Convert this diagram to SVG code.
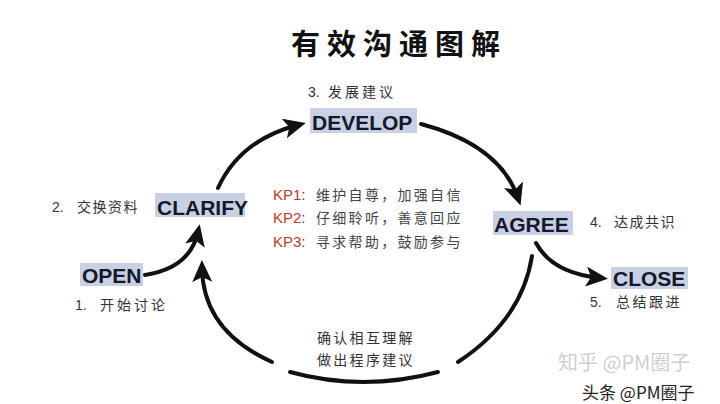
<svg xmlns="http://www.w3.org/2000/svg" width="720" height="404" viewBox="0 0 720 404">
<style>
  .title{font-family:"Noto Sans CJK SC","Liberation Sans",sans-serif;font-weight:700;font-size:29px;fill:#111;letter-spacing:7px}
  .box{fill:#c9d0e4}
  .key{font-family:"Liberation Sans","Noto Sans CJK SC",sans-serif;font-weight:700;font-size:21px;fill:#15182a}
  .lbl{font-family:"Liberation Sans","Noto Sans CJK SC",sans-serif;font-size:14px;fill:#333}
  .cn{font-family:"Noto Sans CJK SC","Liberation Sans",sans-serif;font-size:14px;fill:#333;letter-spacing:3px}
  .kp{font-family:"Liberation Sans",sans-serif;font-size:15px;fill:#c0392b}
  .kpc{font-family:"Liberation Sans",sans-serif;font-size:15px;fill:#444}
  .arc{fill:none;stroke:#111;stroke-width:4;stroke-linecap:round}
  .wm1{font-family:"Noto Sans CJK SC","Liberation Sans",sans-serif;font-size:20px;fill:#d0d0d0}
  .wm2{font-family:"Noto Sans CJK SC","Liberation Sans",sans-serif;font-size:17px;fill:#222;stroke:#fff;stroke-width:2px;paint-order:stroke}
</style>
<defs>
  <marker id="ah" markerUnits="userSpaceOnUse" markerWidth="26" markerHeight="22" refX="14" refY="10" orient="auto">
    <path d="M0,0 L22,10 L0,20 L5,10 z" fill="#111"/>
  </marker>
</defs>
<rect width="720" height="404" fill="#fff"/>
<text class="title" x="291" y="55">有效沟通图解</text>

<g id="connectors">
  <path class="arc" d="M145,275 Q190,268 198,232" marker-end="url(#ah)"/>
  <path class="arc" d="M218,188 Q240,140 298,125" marker-end="url(#ah)"/>
  <path class="arc" d="M421,124 Q500,145 518,198" marker-end="url(#ah)"/>
  <path class="arc" d="M536,243 Q552,273 600,278" marker-end="url(#ah)"/>
  <path class="arc" d="M532,256 Q522,320 458,362"/>
  <path class="arc" d="M290,372 Q363,392 438,372"/>
  <path class="arc" d="M272,362 Q203,331 202,268" marker-end="url(#ah)"/>
</g>

<g id="open">
  <rect class="box" x="80" y="263" width="63" height="23"/>
  <text class="key" x="82" y="283">OPEN</text>
  <text class="lbl" x="75" y="310">1.</text>
  <text class="cn" x="100" y="310">开始讨论</text>
</g>
<g id="clarify">
  <rect class="box" x="155" y="193" width="90" height="24"/>
  <text class="key" x="157" y="215">CLARIFY</text>
  <text class="lbl" x="52" y="212">2.</text>
  <text class="cn" x="77" y="212" style="letter-spacing:1.5px">交换资料</text>
</g>
<g id="develop">
  <rect class="box" x="310" y="108" width="107" height="25"/>
  <text class="key" x="312" y="130">DEVELOP</text>
  <text class="lbl" x="308" y="97">3.</text>
  <text class="cn" x="328" y="97">发展建议</text>
</g>
<g id="agree">
  <rect class="box" x="493" y="211" width="80" height="24"/>
  <text class="key" x="494" y="232">AGREE</text>
  <text class="lbl" x="590" y="227">4.</text>
  <text class="cn" x="614" y="227" style="letter-spacing:1.5px">达成共识</text>
</g>
<g id="close">
  <rect class="box" x="611" y="267" width="77" height="22"/>
  <text class="key" x="613" y="286">CLOSE</text>
  <text class="lbl" x="590" y="307">5.</text>
  <text class="cn" x="616" y="307" style="letter-spacing:2.5px">总结跟进</text>
</g>

<g id="kp">
  <text x="273" y="200"><tspan class="kp">KP1</tspan><tspan class="kpc">:</tspan></text>
  <text class="cn" x="316" y="200" style="letter-spacing:2.3px;fill:#444">维护自尊，加强自信</text>
  <text x="273" y="223"><tspan class="kp">KP2</tspan><tspan class="kpc">:</tspan></text>
  <text class="cn" x="316" y="223" style="letter-spacing:2.3px;fill:#444">仔细聆听，善意回应</text>
  <text x="273" y="247"><tspan class="kp">KP3</tspan><tspan class="kpc">:</tspan></text>
  <text class="cn" x="316" y="247" style="letter-spacing:2.3px;fill:#444">寻求帮助，鼓励参与</text>
</g>

<g id="loop-text">
  <text class="cn" x="317" y="343" style="letter-spacing:2.3px">确认相互理解</text>
  <text class="cn" x="317" y="365" style="letter-spacing:2.3px">做出程序建议</text>
</g>

<text class="wm1" x="558" y="370">知乎 @PM圈子</text>
<text class="wm2" x="582" y="399">头条 @PM圈子</text>
</svg>
